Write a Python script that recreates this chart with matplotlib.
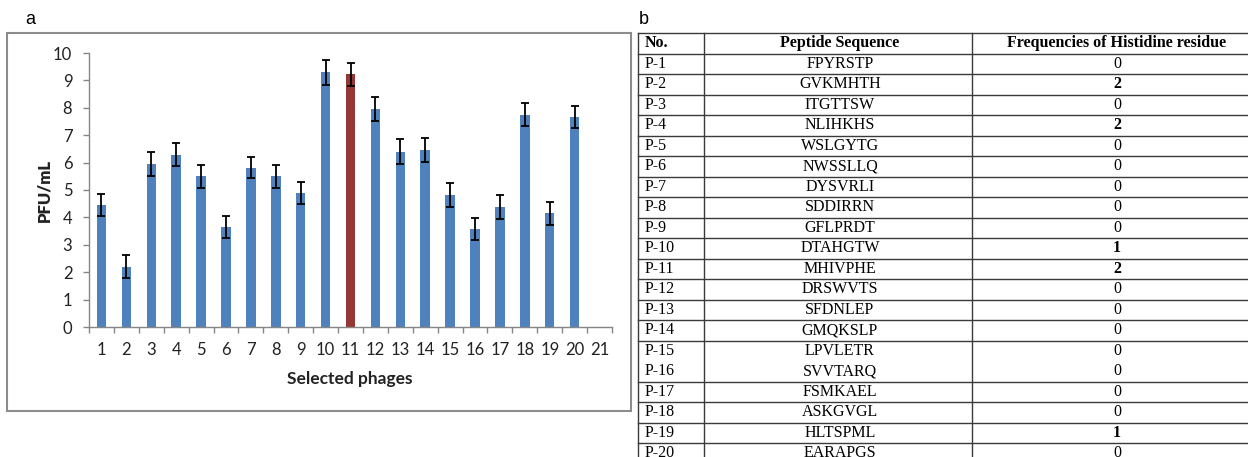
import numpy as np
import matplotlib.pyplot as plt
from matplotlib.patches import Rectangle
from matplotlib.lines import Line2D

# panel a: phage titer per selected phage
phages = list(range(1, 22))
pfu = [4.45, 2.2, 5.95, 6.28, 5.5, 3.65, 5.82, 5.5, 4.88, 9.3,
       9.22, 7.95, 6.4, 6.45, 4.82, 3.58, 4.38, 7.75, 4.15, 7.68]
pfu_err = [0.4, 0.42, 0.43, 0.42, 0.43, 0.4, 0.4, 0.43, 0.4, 0.45,
           0.43, 0.43, 0.45, 0.43, 0.43, 0.4, 0.44, 0.43, 0.43, 0.4]
highlight = 11

# panel b: peptide table
col_headers = ['No.', 'Peptide Sequence', 'Frequencies of Histidine residue']
pep_ids = ['P-%d' % i for i in range(1, 21)]
pep_seqs = ['FPYRSTP', 'GVKMHTH', 'ITGTTSW', 'NLIHKHS', 'WSLGYTG', 'NWSSLLQ',
            'DYSVRLI', 'SDDIRRN', 'GFLPRDT', 'DTAHGTW', 'MHIVPHE', 'DRSWVTS',
            'SFDNLEP', 'GMQKSLP', 'LPVLETR', 'SVVTARQ', 'FSMKAEL', 'ASKGVGL',
            'HLTSPML', 'EARAPGS']
his_freq = [0, 2, 0, 2, 0, 0, 0, 0, 0, 1, 2, 0, 0, 0, 0, 0, 0, 0, 1, 0]

W, H = 1248, 457
fig = plt.figure(figsize=(W / 100, H / 100), dpi=100)

# ---- panel a ----
ax = fig.add_axes([89 / W, (H - 327) / H, (612 - 89) / W, (327 - 53) / H])
colors = ['#953735' if p == highlight else '#4F81BD' for p in phages[:len(pfu)]]
ax.bar(phages[:len(pfu)], pfu, width=0.38, color=colors, zorder=2)
ax.errorbar(phages[:len(pfu)], pfu, yerr=pfu_err, fmt='none', ecolor='black',
            elinewidth=1.3, capsize=3.2, capthick=1.3, zorder=3)
ax.set_xlim(0.5, 21.5)
ax.set_ylim(0, 10)
ax.set_yticks(range(0, 11))
ax.set_xticks(phages)
ax.set_xticks(np.arange(0.5, 22, 1), minor=True)
ax.tick_params(axis='x', which='major', length=0, pad=11, labelsize=12, labelcolor='#222222')
ax.tick_params(axis='x', which='minor', length=4, width=1, color='#868686', direction='out')
ax.tick_params(axis='y', length=4, width=1, color='#868686', pad=8, labelsize=12, labelcolor='#222222')
for lab in ax.get_xticklabels() + ax.get_yticklabels():
    lab.set_family('Lato')
for s in ['top', 'right']:
    ax.spines[s].set_visible(False)
for s in ['left', 'bottom']:
    ax.spines[s].set_color('#868686')
    ax.spines[s].set_linewidth(1)

fig.text(350 / W, 1 - 379 / H, 'Selected phages', ha='center', va='center',
         fontsize=12.5, fontweight='bold', family='Lato', color='#222222')
fig.text(44 / W, 1 - 190 / H, 'PFU/mL', ha='center', va='center', rotation=90,
         fontsize=12, fontweight='heavy', family='Lato', color='#222222')
fig.patches.append(Rectangle((7 / W, 1 - 411 / H), (631 - 7) / W, (411 - 33) / H,
                             transform=fig.transFigure, fill=False,
                             edgecolor='#8c8c8c', linewidth=1.5))
fig.text(30 / W, 1 - 20 / H, 'a', ha='center', va='center', fontsize=13,
         family='Liberation Sans')
fig.text(644 / W, 1 - 20 / H, 'b', ha='center', va='center', fontsize=13,
         family='Liberation Sans')

# ---- panel b: table drawn in pixel coordinates ----
tx = fig.add_axes([0, 0, 1, 1])
tx.set_xlim(0, W)
tx.set_ylim(H, 0)
tx.axis('off')

top, head_h, row_h = 33, 20.5, 20.5
col_x = [638, 704, 972, 1260]
n_rows = len(pep_ids)
bottom = top + head_h + row_h * n_rows
line_kw = dict(color='#3a3a3a', linewidth=1)
for x in col_x[:3]:
    tx.add_line(Line2D([x, x], [top, bottom], **line_kw))
tx.add_line(Line2D([col_x[0], W], [top, top], **line_kw))
for i in range(n_rows + 1):
    if i == 15:
        continue  # no rule between P-15 and P-16 in the original
    y = top + head_h + row_h * i
    tx.add_line(Line2D([col_x[0], W], [y, y], **line_kw))

serif = 'Liberation Serif'
fs = 11.5
hy = top + head_h / 2
tx.text(645, hy, col_headers[0], ha='left', va='center', fontsize=fs, fontweight='bold', family=serif)
tx.text(840, hy, col_headers[1], ha='center', va='center', fontsize=fs, fontweight='bold', family=serif)
tx.text(1117, hy, col_headers[2], ha='center', va='center', fontsize=fs, fontweight='bold', family=serif)
for i, (pid, seq, f) in enumerate(zip(pep_ids, pep_seqs, his_freq)):
    y = top + head_h + row_h * (i + 0.5)
    tx.text(645, y, pid, ha='left', va='center', fontsize=fs, family=serif)
    tx.text(840, y, seq, ha='center', va='center', fontsize=fs, family=serif)
    tx.text(1117, y, str(f), ha='center', va='center', fontsize=fs, family=serif,
            fontweight='bold' if f > 0 else 'normal')

fig.savefig('out.png', dpi=100)
